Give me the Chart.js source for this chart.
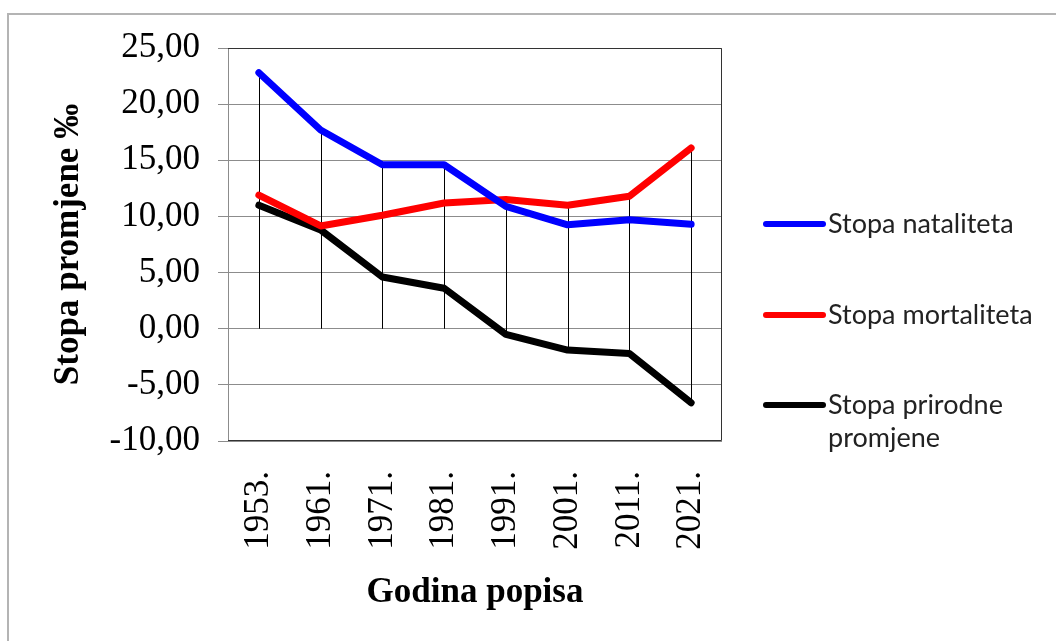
<!DOCTYPE html>
<html>
<head>
<meta charset="utf-8">
<script src="https://cdn.jsdelivr.net/npm/chart.js@4/dist/chart.umd.min.js"></script>
<style>
  html, body { margin: 0; padding: 0; background: #fff; }
  body { width: 1056px; height: 641px; position: relative; overflow: hidden; }
  .frame { position: absolute; left: 7px; top: 13px; width: 1200px; height: 800px;
           border-top: 2px solid #b4b4b4; border-left: 2px solid #b4b4b4; }
  #wrap { position: absolute; left: 0; top: 0; width: 1056px; height: 641px; }
  .legend { position: absolute; left: 763px; top: 0; font-family: Lato, "Open Sans", sans-serif;
            font-size: 27px; color: #222; }
  .legend .item { position: absolute; left: 0; width: 290px; }
  .legend .swatch { position: absolute; left: 0; width: 63px; height: 6px; border-radius: 3px; }
  .legend .text { position: absolute; left: 65px; line-height: 33px; white-space: nowrap; }
</style>
</head>
<body>
<div class="frame"></div>
<div id="wrap"><canvas id="chart" width="1056" height="641"></canvas></div>
<div class="legend" id="legend"></div>
<script>
// Stopa nataliteta / mortaliteta / prirodne promjene po popisima

const categories = ['1953.', '1961.', '1971.', '1981.', '1991.', '2001.', '2011.', '2021.'];
const natalitet  = [22.8, 17.7, 14.6, 14.6, 10.9, 9.25, 9.7, 9.3];
const mortalitet = [11.9, 9.15, 10.1, 11.2, 11.5, 11.0, 11.8, 16.1];
const prirodna   = [11.0, 8.8, 4.6, 3.6, -0.5, -1.9, -2.2, -6.6];
const seriesNames = ['Stopa nataliteta', 'Stopa mortaliteta', 'Stopa prirodne promjene'];
const seriesColors = ['#0000ff', '#ff0000', '#000000'];
const yTicks = [-10, -5, 0, 5, 10, 15, 20, 25];

const serif = '"Liberation Serif", "Times New Roman", serif';

// vertical drop lines from the highest point down to the lowest (or 0)
const dropLines = {
  id: 'dropLines',
  beforeDatasetsDraw(chart) {
    const { ctx, scales: { x, y } } = chart;
    ctx.save();
    ctx.strokeStyle = '#000';
    ctx.lineWidth = 1;
    categories.forEach((c, i) => {
      const vals = chart.data.datasets.map(d => d.data[i]);
      const hi = Math.max(0, ...vals);
      const lo = Math.min(0, ...vals);
      const px = Math.round(x.getPixelForValue(i)) + 0.5;
      ctx.beginPath();
      ctx.moveTo(px, y.getPixelForValue(hi));
      ctx.lineTo(px, y.getPixelForValue(lo));
      ctx.stroke();
    });
    ctx.restore();
  }
};

// dark border on top / right / bottom of plot area
const plotBorder = {
  id: 'plotBorder',
  afterDatasetsDraw(chart) {
    const { ctx, chartArea: a } = chart;
    ctx.save();
    ctx.strokeStyle = '#333';
    ctx.lineWidth = 1;
    ctx.beginPath();
    ctx.moveTo(a.left, a.top + 0.5);
    ctx.lineTo(a.right - 0.5, a.top + 0.5);
    ctx.lineTo(a.right - 0.5, a.bottom - 0.5);
    ctx.lineTo(a.left, a.bottom - 0.5);
    ctx.stroke();
    ctx.restore();
  }
};

const data = {
  labels: categories,
  datasets: [natalitet, mortalitet, prirodna].map((vals, i) => ({
    label: seriesNames[i],
    data: vals,
    borderColor: seriesColors[i],
    backgroundColor: seriesColors[i],
    borderWidth: 7,
    borderCapStyle: 'round',
    borderJoinStyle: 'round',
    pointRadius: 0,
    tension: 0
  }))
};

new Chart(document.getElementById('chart'), {
  type: 'line',
  data,
  plugins: [dropLines, plotBorder],
  options: {
    responsive: false,
    animation: false,
    layout: { padding: { left: 0, top: 48, right: 334, bottom: 0 } },
    plugins: { legend: { display: false }, tooltip: { enabled: false } },
    scales: {
      x: {
        offset: true,
        grid: { display: false, drawTicks: false },
        border: { display: false },
        ticks: {
          minRotation: 90, maxRotation: 90, padding: 30,
          color: '#000',
          font: { family: serif, size: 35 }
        },
        title: {
          display: true, text: 'Godina popisa', color: '#000',
          font: { family: serif, size: 35, weight: 'bold' },
          padding: { top: 0, bottom: 27 }
        },
        afterFit(scale) { scale.height = 200; }
      },
      y: {
        min: -10, max: 25,
        afterBuildTicks(scale) { scale.ticks = yTicks.map(v => ({ value: v })); },
        grid: { color: '#8c8c8c', lineWidth: 1, tickLength: 10, drawTicks: true },
        border: { color: '#8c8c8c' },
        ticks: {
          padding: 18, color: '#000',
          font: { family: serif, size: 35 },
          callback: v => v.toFixed(2).replace('.', ',')
        },
        title: {
          display: true, text: 'Stopa promjene ‰', color: '#000',
          font: { family: serif, size: 35, weight: 'bold' },
          padding: { top: 48, bottom: 0 }
        },
        afterFit(scale) { scale.width = 228; }
      }
    }
  }
});

// legend on the right
const legendTops = [224, 315, 405];
const legendLabels = ['Stopa nataliteta', 'Stopa mortaliteta', 'Stopa prirodne<br>promjene'];
const legendEl = document.getElementById('legend');
legendLabels.forEach((txt, i) => {
  const item = document.createElement('div');
  item.className = 'item';
  item.style.top = legendTops[i] + 'px';
  item.innerHTML = '<div class="swatch" style="top:-3px;background:' + seriesColors[i] + '"></div>' +
                   '<div class="text" style="top:-18px">' + txt + '</div>';
  legendEl.appendChild(item);
});
</script>
</body>
</html>
